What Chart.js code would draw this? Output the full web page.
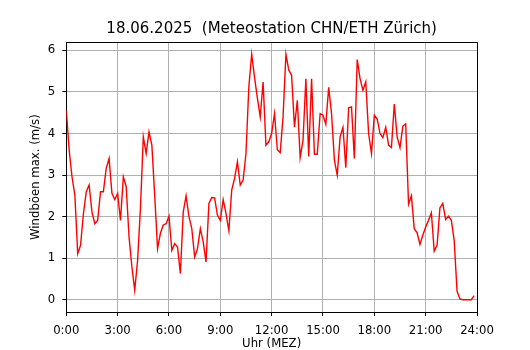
<!DOCTYPE html>
<html><head><meta charset="utf-8">
<script src="https://cdn.jsdelivr.net/npm/chart.js@4"></script>
<style>html,body{margin:0;padding:0;background:#fff}#wrap{width:530px;height:350px}</style>
</head><body><div id="wrap"><canvas id="c" width="530" height="350"></canvas></div>
<script>
const chartTitle = '18.06.2025  (Meteostation CHN/ETH Zürich)';
const xAxisTitle = 'Uhr (MEZ)';
const yAxisTitle = 'Windböen max. (m/s)';
const xTickHours = [0, 3, 6, 9, 12, 15, 18, 21, 24];
const xTickLabels = ['0:00', '3:00', '6:00', '9:00', '12:00', '15:00', '18:00', '21:00', '24:00'];
const yTickValues = [0, 1, 2, 3, 4, 5, 6];
const sampleStepHours = 10 / 60; // one reading every 10 minutes, starting 0:00
const gustValues = [
  4.56, 3.60, 2.96, 2.52, 1.11, 1.31, 2.07, 2.60, 2.76, 2.11, 1.83, 1.91,
  2.60, 2.60, 3.16, 3.40, 2.56, 2.41, 2.56, 1.91, 2.96, 2.72, 1.51, 0.79,
  0.23, 0.95, 2.20, 3.92, 3.52, 4.04, 3.72, 2.50, 1.23, 1.60, 1.80, 1.83,
  2.01, 1.19, 1.35, 1.27, 0.63, 2.11, 2.50, 2.00, 1.71, 1.03, 1.23, 1.71,
  1.39, 0.91, 2.32, 2.46, 2.45, 2.03, 1.91, 2.41, 2.07, 1.66, 2.64, 2.92,
  3.32, 2.76, 2.88, 3.52, 5.12, 5.91, 5.35, 4.85, 4.40, 5.24, 3.72, 3.80,
  4.00, 4.48, 3.61, 3.54, 4.40, 5.91, 5.53, 5.40, 4.15, 4.80, 3.42, 3.84,
  5.32, 3.45, 5.32, 3.50, 3.50, 4.48, 4.44, 4.22, 5.11, 4.48, 3.36, 3.00,
  3.92, 4.15, 3.18, 4.62, 4.64, 3.40, 5.78, 5.32, 5.04, 5.24, 4.00, 3.52,
  4.44, 4.35, 4.00, 3.90, 4.15, 3.72, 3.66, 4.71, 3.92, 3.66, 4.18, 4.23,
  2.30, 2.50, 1.71, 1.61, 1.33, 1.55, 1.75, 1.91, 2.09, 1.17, 1.31, 2.21,
  2.32, 1.93, 2.01, 1.91, 1.43, 0.21, 0.02, 0.00, 0.00, 0.00, 0.00, 0.10
];

Chart.defaults.font.family = "'DejaVu Sans', sans-serif";
Chart.defaults.color = '#000';

const points = gustValues.map((v, i) => ({ x: i * sampleStepHours, y: v }));

const framePlugin = {
  id: 'frame',
  afterDraw(chart) {
    const { ctx, chartArea: a } = chart;
    ctx.save();
    ctx.strokeStyle = '#000';
    ctx.lineWidth = 1;
    const r = Math.round(a.right) + 0.5;
    const t = Math.round(a.top) + 0.5;
    ctx.beginPath();
    ctx.moveTo(Math.round(a.left) + 0.5, t);
    ctx.lineTo(r, t);
    ctx.lineTo(r, Math.round(a.bottom) + 0.5);
    ctx.stroke();
    ctx.restore();
  }
};

new Chart(document.getElementById('c'), {
  type: 'line',
  data: {
    datasets: [{
      data: points,
      borderColor: '#ff0000',
      borderWidth: 1.4,
      pointRadius: 0,
      tension: 0,
      fill: false
    }]
  },
  options: {
    responsive: false,
    animation: false,
    devicePixelRatio: 1,
    layout: { padding: { left: 0, right: 53, top: 0, bottom: 0 } },
    plugins: { legend: { display: false }, tooltip: { enabled: false }, title: { display: false } },
    scales: {
      x: {
        type: 'linear', position: 'bottom', min: 0, max: 24,
        afterBuildTicks: s => { s.ticks = xTickHours.map(v => ({ value: v })); },
        afterFit: s => { s.height = 38; },
        ticks: {
          callback: (v, i) => xTickLabels[i],
          font: { size: 11.7 }, color: '#000', padding: 8, maxRotation: 0, autoSkip: false
        },
        grid: { color: '#b0b0b0', lineWidth: 1, tickLength: 4, tickColor: '#000' },
        border: { color: '#000', width: 1 },
        title: { display: true, text: xAxisTitle, color: '#000', font: { size: 11.7, lineHeight: 1 }, padding: { top: 0, bottom: 0 } }
      },
      xTop: {
        axis: 'x', type: 'linear', position: 'top', min: 0, max: 24,
        afterFit: s => { s.height = 42.3; },
        ticks: { display: false },
        grid: { display: false, drawTicks: false },
        border: { display: false },
        title: { display: true, text: chartTitle, color: '#000', font: { size: 15, lineHeight: 1.2 }, padding: { top: 20, bottom: 0 } }
      },
      y: {
        type: 'linear', position: 'left', min: -0.295, max: 6.195,
        afterBuildTicks: s => { s.ticks = yTickValues.map(v => ({ value: v })); },
        afterFit: s => { s.width = 66.3; },
        ticks: { font: { size: 11.7 }, color: '#000', padding: 7 },
        grid: { color: '#b0b0b0', lineWidth: 1, tickLength: 4, tickColor: '#000' },
        border: { color: '#000', width: 1 },
        title: { display: true, text: yAxisTitle, color: '#000', font: { size: 11.7, lineHeight: 1.2 }, padding: { top: 29, bottom: 0 } }
      }
    }
  },
  plugins: [framePlugin]
});
</script>
</body></html>
